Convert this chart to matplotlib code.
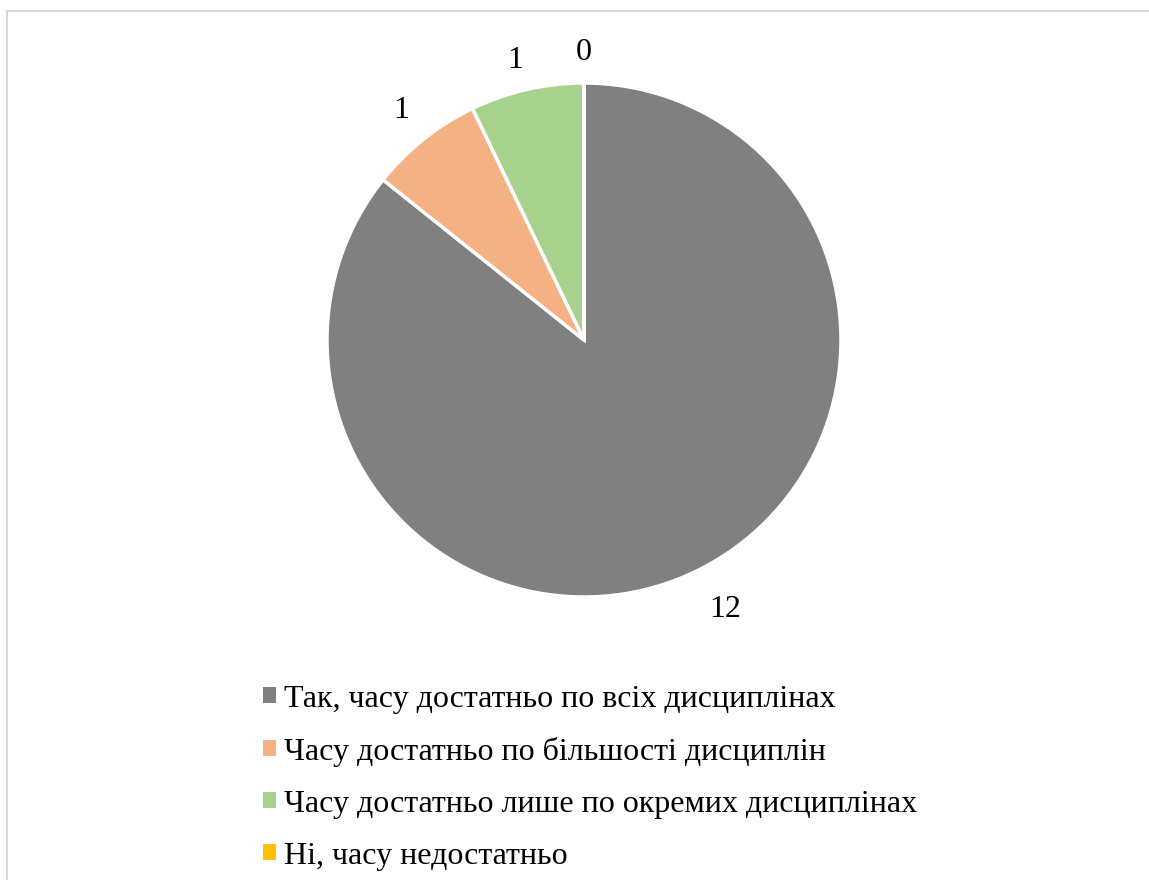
import numpy as np
import matplotlib
matplotlib.use("Agg")
import matplotlib.pyplot as plt
from matplotlib.patches import Patch
from matplotlib.lines import Line2D

# Survey answers: is there enough time for the disciplines
categories = [
    "Так, часу достатньо по всіх дисциплінах",
    "Часу достатньо по більшості дисциплін",
    "Часу достатньо лише по окремих дисциплінах",
    "Ні, часу недостатньо",
]
counts = [12, 1, 1, 0]
colors = ["#808080", "#F4B183", "#A9D18E", "#FFC000"]

plt.rcParams["font.family"] = ["Liberation Serif", "DejaVu Serif"]
FS = 23

W, H = 1149, 880
fig = plt.figure(figsize=(W / 100, H / 100), dpi=100)

# light chart-area border (only left and top edges are inside the picture)
fig.lines.append(Line2D([7 / W, 7 / W, 1.05], [-0.05, (H - 11) / H, (H - 11) / H],
                        transform=fig.transFigure, color="#D9D9D9", linewidth=1.5))

cx, cy, r = 584, 340, 257
ax = fig.add_axes([(cx - r) / W, (H - cy - r) / H, 2 * r / W, 2 * r / H])
wedges, _ = ax.pie(counts, colors=colors, startangle=90, counterclock=False,
                   radius=1, wedgeprops=dict(edgecolor="white", linewidth=2.5))
ax.set_xlim(-1, 1)
ax.set_ylim(-1, 1)
ax.set_aspect("equal")
ax.axis("off")

# data labels outside the end
nudge = [2, 0, 1, 0]
dist = [1.185, 1.14, 1.12, 1.12]
for w, n, d, v in zip(wedges, nudge, dist, counts):
    mid = np.deg2rad((w.theta1 + w.theta2) / 2 + n)
    ax.text(d * np.cos(mid), d * np.sin(mid), str(v), ha="center",
            va="center", fontsize=FS, clip_on=False)

handles = [Patch(facecolor=c, edgecolor="none") for c in colors]
fig.legend(handles, categories, loc="upper left",
           bbox_to_anchor=(250 / W, (H - 672) / H), frameon=False,
           fontsize=FS, handlelength=0.4, handleheight=0.4,
           handletextpad=0.28, labelspacing=0.72, borderaxespad=0)

fig.savefig("out.png", dpi=100, facecolor="white")
